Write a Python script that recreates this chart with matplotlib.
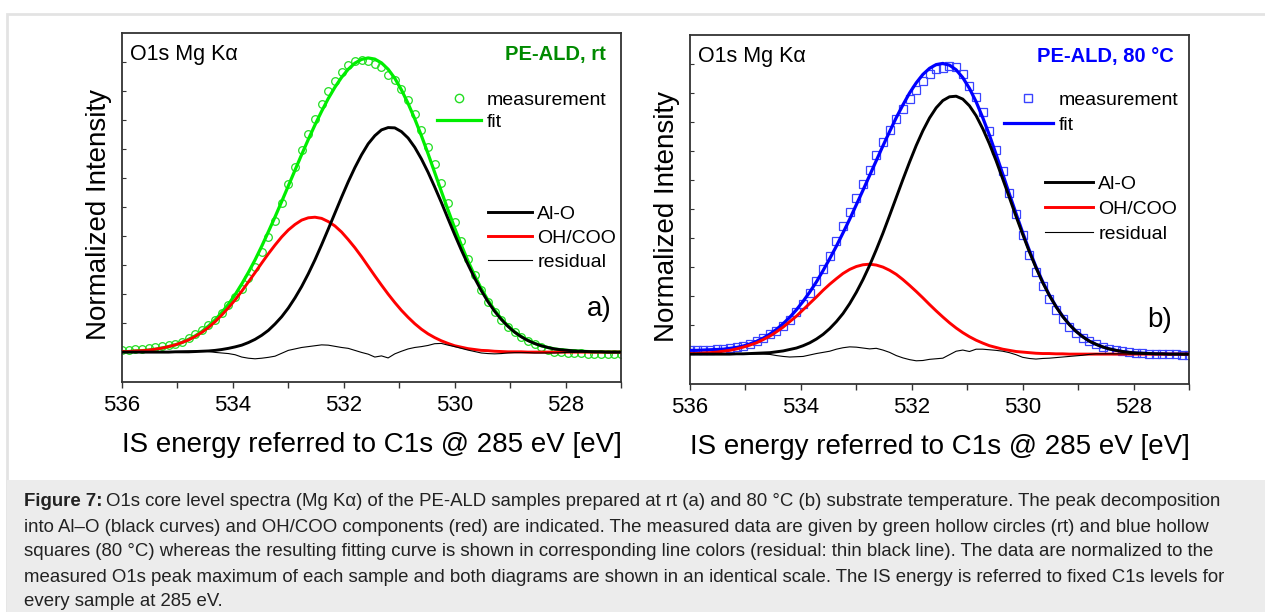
import numpy as np
import matplotlib
matplotlib.use("Agg")
import matplotlib.pyplot as plt
from matplotlib.lines import Line2D
from matplotlib.patches import Rectangle
from matplotlib.ticker import MultipleLocator

plt.rcParams['font.family'] = ['Liberation Sans', 'DejaVu Sans']

# binding energy channels [eV], shared by both spectra
energy = [536.00, 535.88, 535.76, 535.64, 535.52, 535.40, 535.28, 535.16, 535.04, 534.92,
          534.80, 534.68, 534.56, 534.44, 534.32, 534.20, 534.08, 533.96, 533.84, 533.72,
          533.60, 533.48, 533.36, 533.24, 533.12, 533.00, 532.88, 532.76, 532.64, 532.52,
          532.40, 532.28, 532.16, 532.04, 531.92, 531.80, 531.68, 531.56, 531.44, 531.32,
          531.20, 531.08, 530.96, 530.84, 530.72, 530.60, 530.48, 530.36, 530.24, 530.12,
          530.00, 529.88, 529.76, 529.64, 529.52, 529.40, 529.28, 529.16, 529.04, 528.92,
          528.80, 528.68, 528.56, 528.44, 528.32, 528.20, 528.08, 527.96, 527.84, 527.72,
          527.60, 527.48, 527.36, 527.24, 527.12, 527.00]

# intensities in 1/1000 of the normalized O1s maximum
# a) PE-ALD, rt
alo_a = [0, 0, 0, 0, 0, 0, 0, 0, 1, 1, 1, 2, 3, 4, 6, 9, 13, 18, 24, 33, 44, 58, 75, 97, 122, 152, 187, 226,
         270, 318, 370, 424, 479, 534, 587, 636, 680, 718, 746, 766, 774, 773, 760, 738, 706, 666, 620, 569,
         516, 460, 405, 352, 302, 255, 212, 174, 141, 113, 89, 69, 53, 40, 30, 22, 16, 11, 8, 6, 4, 3, 2, 1,
         1, 0, 0, 0]
oh_a = [2, 2, 4, 5, 7, 10, 14, 19, 25, 33, 42, 54, 68, 85, 105, 128, 153, 180, 210, 242, 274, 307, 339, 369,
        397, 421, 440, 455, 463, 465, 461, 450, 435, 414, 388, 360, 329, 296, 263, 231, 200, 171, 144, 120, 98,
        79, 63, 50, 39, 30, 22, 17, 12, 9, 6, 5, 3, 2, 1, 1, 1, 0, 0, 0, 0, 0, 0, 0, 0, 0, 0, 0, 0, 0, 0, 0]
fit_a = [2, 2, 4, 5, 7, 10, 14, 19, 25, 33, 44, 56, 71, 90, 111, 137, 165, 198, 235, 275, 318, 365, 415, 466,
         519, 573, 627, 681, 733, 783, 830, 874, 913, 947, 975, 996, 1009, 1014, 1010, 997, 975, 944, 904, 857,
         804, 746, 684, 619, 554, 490, 428, 369, 314, 264, 219, 179, 145, 115, 91, 70, 54, 41, 30, 22, 16, 11,
         8, 6, 4, 3, 2, 1, 1, 0, 0, 0]
meas_a = [8, 9, 10, 12, 14, 17, 21, 24, 29, 36, 47, 61, 76, 92, 111, 134, 161, 189, 218, 254, 295, 344, 396,
          452, 515, 579, 638, 696, 751, 805, 856, 899, 934, 964, 988, 1002, 1008, 1002, 993, 984, 955, 937, 907,
          869, 820, 765, 707, 649, 584, 514, 447, 382, 321, 265, 215, 174, 139, 110, 87, 68, 51, 38, 27, 17, 8,
          2, -1, -3, -4, -4, -5, -6, -6, -7, -7, -7]
res_a = [0, 0, 0, 1, 1, 1, 1, 2, 2, 3, 4, 4, 4, 2, -1, -3, -5, -9, -17, -21, -23, -21, -18, -14, -4, 6, 11, 16,
         19, 22, 25, 24, 20, 16, 13, 6, -1, -7, -17, -13, -20, -6, 3, 11, 16, 19, 23, 29, 30, 24, 19, 13, 7, 2,
         -3, -5, -6, -5, -3, -2, -2, -2, -3, -3, -3, -3, -2, -1, -1, 0, 0, 0, 0, 0, 0, 0]

# b) PE-ALD, 80 °C
alo_b = [0, 0, 0, 0, 0, 0, 0, 1, 1, 2, 3, 4, 5, 8, 11, 16, 21, 29, 39, 52, 68, 88, 112, 140, 174, 213, 257, 306,
         360, 417, 478, 540, 602, 662, 719, 770, 814, 849, 874, 887, 889, 879, 856, 822, 777, 725, 667, 604, 540,
         475, 413, 353, 298, 247, 203, 164, 130, 102, 79, 60, 45, 34, 25, 18, 13, 9, 6, 4, 3, 2, 1, 1, 0, 0, 0, 0]
oh_b = [2, 2, 4, 5, 7, 10, 13, 18, 24, 31, 39, 50, 62, 77, 93, 112, 131, 153, 175, 197, 220, 241, 260, 278, 292,
        302, 308, 310, 307, 300, 289, 275, 257, 237, 216, 194, 171, 149, 128, 108, 90, 74, 60, 48, 38, 29, 23, 17,
        13, 9, 7, 5, 3, 2, 2, 1, 1, 0, 0, 0, 0, 0, 0, 0, 0, 0, 0, 0, 0, 0, 0, 0, 0, 0, 0, 0]
fit_b = [13, 13, 14, 15, 16, 17, 20, 23, 28, 35, 44, 55, 69, 85, 105, 127, 153, 182, 214, 249, 288, 329, 372, 418,
         465, 515, 565, 616, 667, 718, 767, 815, 859, 900, 935, 964, 985, 998, 1002, 996, 980, 953, 916, 870, 815,
         755, 689, 621, 552, 485, 419, 358, 301, 250, 204, 165, 131, 103, 79, 61, 45, 34, 25, 18, 13, 9, 6, 4, 3,
         2, 1, 1, 0, 0, 0, 0]
meas_b = [13, 13, 14, 15, 16, 17, 20, 23, 28, 35, 44, 55, 68, 80, 97, 118, 144, 174, 211, 251, 293, 339, 389, 440,
          491, 539, 586, 634, 687, 732, 773, 810, 846, 881, 912, 941, 967, 982, 987, 994, 989, 967, 925, 887, 833,
          769, 703, 631, 557, 482, 409, 342, 284, 234, 190, 153, 121, 95, 73, 56, 44, 35, 26, 19, 14, 10, 7, 4, 3,
          1, 1, 0, -1, -1, -2, -2]
res_b = [0, 0, 0, 0, 0, 0, 0, 0, 0, 0, 0, 0, -1, -5, -8, -10, -9, -8, -3, 2, 6, 10, 17, 22, 25, 24, 21, 18, 20,
         14, 6, -5, -13, -19, -23, -22, -18, -16, -14, -2, 10, 14, 9, 17, 17, 15, 13, 10, 5, -2, -11, -15, -17,
         -15, -14, -12, -10, -8, -6, -4, -1, 1, 1, 1, 1, 1, 0, 0, 0, 0, -1, -1, -1, -1, -2, -2]

caption = [
    'O1s core level spectra (Mg Kα) of the PE-ALD samples prepared at rt (a) and 80 °C (b) substrate temperature. The peak decomposition',
    'into Al–O (black curves) and OH/COO components (red) are indicated. The measured data are given by green hollow circles (rt) and blue hollow',
    'squares (80 °C) whereas the resulting fitting curve is shown in corresponding line colors (residual: thin black line). The data are normalized to the',
    'measured O1s peak maximum of each sample and both diagrams are shown in an identical scale. The IS energy is referred to fixed C1s levels for',
    'every sample at 285 eV.',
]

W, H = 1265, 612
fig = plt.figure(figsize=(W / 100, H / 100), dpi=100)
# page frame and grey caption box
fig.add_artist(Rectangle((7 / W, 0), 1.2, 1 - 14 / H, transform=fig.transFigure,
                         fill=False, edgecolor='#e3e3e3', lw=2))
fig.add_artist(Rectangle((7 / W, 0), 1.2, 1 - 480 / H, transform=fig.transFigure,
                         facecolor='#ececec', edgecolor='none'))


def panel(rect, meas, fit, alo, oh, res, col, mcol, marker, ms, title, tcol, letter, letter_xy, leg1, leg2):
    ax = fig.add_axes(rect)
    e = np.array(energy)
    ax.plot(e, np.array(meas) / 1000, ls='none', marker=marker, mfc='none', mec=mcol, ms=ms, mew=0.9, zorder=2)
    ax.plot(e, np.array(fit) / 1000, color=col, lw=2.3, zorder=3)
    ax.plot(e, np.array(oh) / 1000, color='#ff0000', lw=2.1, zorder=4)
    ax.plot(e, np.array(alo) / 1000, color='black', lw=2.1, zorder=5)
    ax.plot(e, np.array(res) / 1000, color='black', lw=0.8, zorder=6)

    ax.set_xlim(536, 527)
    ax.set_ylim(-0.103, 1.1)
    ax.xaxis.set_major_locator(MultipleLocator(2))
    ax.xaxis.set_minor_locator(MultipleLocator(1))
    ax.set_yticks(np.arange(0, 1.01, 0.1))
    ax.tick_params(axis='x', which='both', direction='out', length=4.5, width=1, labelsize=16, pad=5,
                   color='#333333')
    ax.tick_params(axis='y', direction='in', length=3, width=0.8, labelleft=False, color='#333333')
    for sp in ax.spines.values():
        sp.set_linewidth(1.3)
        sp.set_color('#333333')

    ax.set_xlabel('IS energy referred to C1s @ 285 eV [eV]', fontsize=20, va='center')
    ax.xaxis.set_label_coords(0.5, -0.18)
    ax.set_ylabel('Normalized Intensity', fontsize=20, va='center')
    ax.yaxis.set_label_coords(-0.046, 0.48)

    ax.text(0.016, 0.937, 'O1s Mg Kα', transform=ax.transAxes, fontsize=15.5, va='center', ha='left')
    ax.text(0.97, 0.937, title, transform=ax.transAxes, fontsize=14.5, weight='bold', color=tcol,
            va='center', ha='right')
    ax.text(letter_xy[0], letter_xy[1], letter, transform=ax.transAxes, fontsize=20, va='center', ha='right')

    h1 = [Line2D([], [], ls='none', marker=marker, mfc='none', mec=mcol, ms=ms + 0.5, mew=1),
          Line2D([], [], color=col, lw=2.3)]
    l1 = ax.legend(h1, ['measurement', 'fit'], loc='upper left', bbox_to_anchor=leg1[:2], frameon=False,
                   fontsize=14, borderpad=0, borderaxespad=0, handlelength=leg1[2], handletextpad=0.28,
                   labelspacing=leg1[3])
    ax.add_artist(l1)
    h2 = [Line2D([], [], color='black', lw=2.1), Line2D([], [], color='#ff0000', lw=2.1),
          Line2D([], [], color='black', lw=0.8)]
    ax.legend(h2, ['Al-O', 'OH/COO', 'residual'], loc='upper left', bbox_to_anchor=leg2[:2], frameon=False,
              fontsize=14, borderpad=0, borderaxespad=0, handlelength=leg2[2], handletextpad=0.28,
              labelspacing=leg2[3])
    return ax


panel([122 / W, 1 - 382 / H, 499 / W, 349 / H], meas_a, fit_a, alo_a, oh_a, res_a, '#00ee00', '#22dd22', 'o', 5.5,
      'PE-ALD, rt', '#008a00', 'a)', (0.982, 0.209), (0.631, 0.834, 2.27, 0.25), (0.733, 0.506, 2.27, 0.33))
panel([690 / W, 1 - 384 / H, 499 / W, 349 / H], meas_b, fit_b, alo_b, oh_b, res_b, '#0000ff', '#3a44ff', 's', 5.5,
      'PE-ALD, 80 °C', '#0000ff', 'b)', (0.966, 0.183), (0.629, 0.838, 2.53, 0.36), (0.711, 0.599, 2.47, 0.38))

fig.canvas.draw()
renderer = fig.canvas.get_renderer()
for i, line in enumerate(caption):
    y = 1 - (502 + i * 25) / H
    x = 24 / W
    if i == 0:
        t = fig.text(x, y, 'Figure 7:', fontsize=13.4, weight='bold', va='center', color='#222222')
        bb = t.get_window_extent(renderer)
        x = (bb.x1 + 4) / W
    fig.text(x, y, line, fontsize=13.4, va='center', color='#222222')

fig.savefig('out.png', dpi=100)
